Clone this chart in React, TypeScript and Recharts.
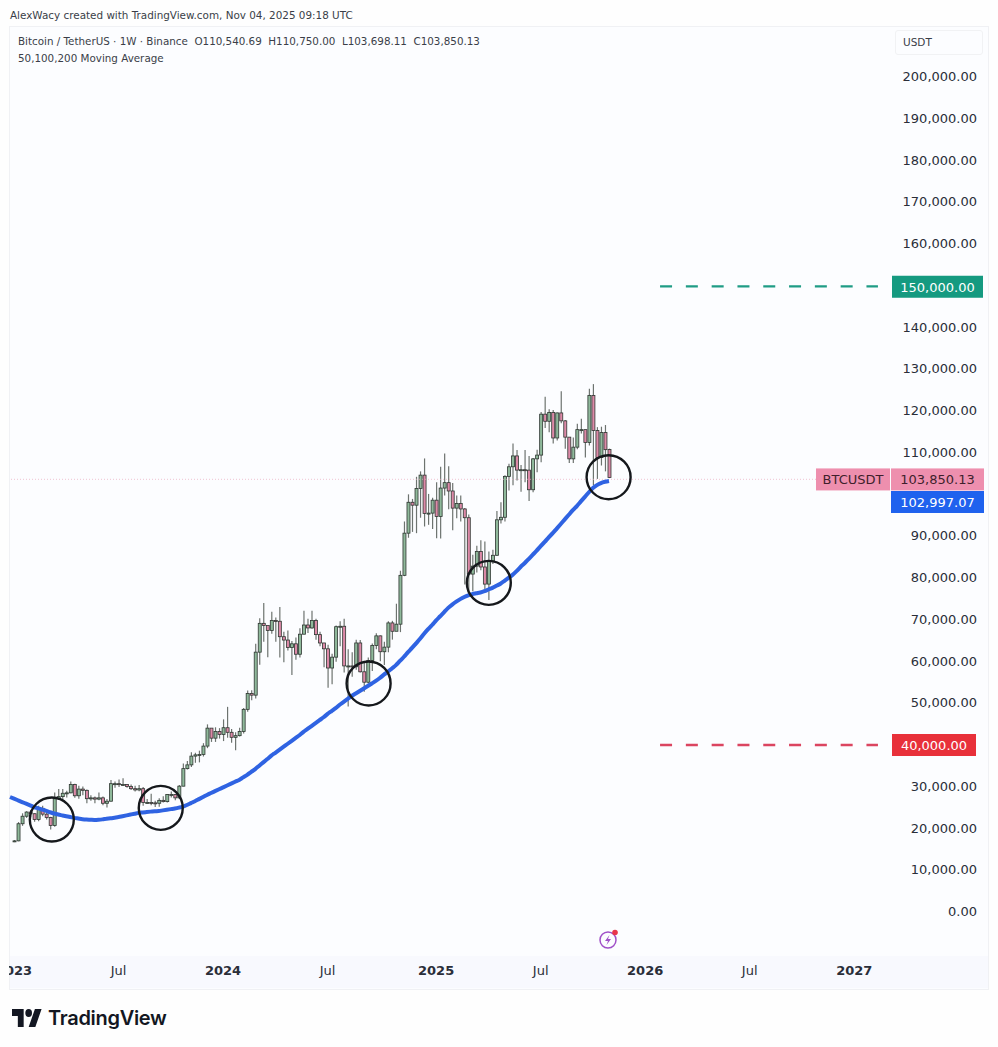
import React from 'react';
import { ComposedChart, Bar, Line, XAxis, YAxis, ReferenceLine, ReferenceDot } from 'recharts';

// weekly candles in thousands of USDT, first one is the week of Jan 2 2023
const opens = [
  16.6, 16.8, 20.9, 22.7, 23.7, 23.3, 21.9, 24.6, 23.2, 22.4,
  20.5, 26.9, 27.4, 28.2, 28.3, 30.3, 27.6, 29.2, 28.9, 26.9,
  27.1, 26.8, 27.1, 25.8, 26.3, 30.5, 30.5, 30.3, 30.3, 29.8,
  29.3, 29.0, 29.3, 26.0, 26.0, 25.9, 25.8, 26.5, 26.2, 27.9,
  27.9, 27.1, 29.9, 34.1, 35.0, 37.1, 37.4, 37.5, 39.5, 43.8,
  41.4, 43.0, 42.3, 43.9, 42.8, 41.6, 42.0, 43.0, 48.3, 52.1,
  51.7, 62.0, 68.9, 68.4, 67.2, 69.6, 69.4, 65.7, 64.9, 63.1,
  64.0, 61.5, 66.3, 68.5, 67.8, 69.6, 66.2, 64.2, 62.8, 58.2,
  60.8, 68.1, 68.2, 58.7, 58.7, 58.5, 64.2, 57.3, 54.8, 60.0,
  63.6, 65.9, 62.1, 63.2, 69.0, 67.0, 68.7, 80.4, 90.5, 97.9,
  97.2, 101.2, 104.4, 95.2, 95.3, 98.4, 94.5, 101.3, 102.6, 100.6,
  96.5, 97.6, 96.3, 94.2, 80.7, 82.6, 86.1, 82.4, 78.3, 83.8,
  85.2, 93.7, 94.3, 104.1, 106.4, 109.0, 105.6, 105.7, 105.6, 100.9,
  108.3, 109.2, 119.0, 117.3, 119.4, 113.3, 119.3, 117.4, 113.5, 108.3,
  111.1, 115.3, 115.3, 112.2, 123.5, 115.1, 108.6, 114.6, 110.54,
];
const closes = [
  16.8, 20.9, 22.7, 23.7, 23.3, 21.9, 24.6, 23.2, 22.4, 20.5,
  26.9, 27.4, 28.2, 28.3, 30.3, 27.6, 29.2, 28.9, 26.9, 27.1,
  26.8, 27.1, 25.8, 26.3, 30.5, 30.5, 30.3, 30.3, 29.8, 29.3,
  29.0, 29.3, 26.0, 26.0, 25.9, 25.8, 26.5, 26.2, 27.9, 27.9,
  27.1, 29.9, 34.1, 35.0, 37.1, 37.4, 37.5, 39.5, 43.8, 41.4,
  43.0, 42.3, 43.9, 42.8, 41.6, 42.0, 43.0, 48.3, 52.1, 51.7,
  62.0, 68.9, 68.4, 67.2, 69.6, 69.4, 65.7, 64.9, 63.1, 64.0,
  61.5, 66.3, 68.5, 67.8, 69.6, 66.2, 64.2, 62.8, 58.2, 60.8,
  68.1, 68.2, 58.7, 58.7, 58.5, 64.2, 57.3, 54.8, 60.0, 63.6,
  65.9, 62.1, 63.2, 69.0, 67.0, 68.7, 80.4, 90.5, 97.9, 97.2,
  101.2, 104.4, 95.2, 95.3, 98.4, 94.5, 101.3, 102.6, 100.6, 96.5,
  97.6, 96.3, 94.2, 80.7, 82.6, 86.1, 82.4, 78.3, 83.8, 85.2,
  93.7, 94.3, 104.1, 106.4, 109.0, 105.6, 105.7, 105.6, 100.9, 108.3,
  109.2, 119.0, 117.3, 119.4, 113.3, 119.3, 117.4, 113.5, 108.3, 111.1,
  115.3, 115.3, 112.2, 123.5, 115.1, 108.6, 114.6, 110.5, 103.85,
];
const highs = [
  17.0, 21.3, 23.4, 23.9, 24.2, 23.4, 25.2, 25.2, 23.9, 22.6,
  28.4, 29.2, 29.2, 28.8, 31.0, 30.5, 30.0, 29.8, 29.1, 27.7,
  27.4, 28.4, 27.4, 26.8, 31.4, 31.0, 31.5, 31.8, 30.4, 30.3,
  30.0, 30.2, 29.7, 26.8, 28.1, 26.4, 27.0, 27.5, 28.0, 28.6,
  28.0, 30.2, 35.3, 35.9, 38.0, 37.9, 38.4, 40.2, 44.7, 43.4,
  44.0, 43.8, 45.9, 48.9, 43.6, 42.8, 43.9, 48.6, 52.8, 52.9,
  64.0, 70.1, 73.8, 68.1, 71.7, 70.3, 72.8, 66.9, 67.2, 64.7,
  65.5, 67.7, 71.9, 70.0, 71.9, 70.0, 66.9, 63.4, 63.8, 61.6,
  68.4, 69.4, 70.0, 62.7, 62.0, 65.0, 64.9, 59.8, 60.7, 64.1,
  66.5, 66.0, 64.5, 69.4, 69.5, 73.6, 81.5, 93.3, 99.8, 98.7,
  104.0, 105.3, 108.4, 99.9, 99.0, 102.7, 106.4, 109.6, 106.5, 102.5,
  99.5, 99.5, 96.5, 95.0, 85.3, 87.5, 88.8, 88.5, 86.1, 86.5,
  95.8, 97.9, 104.4, 107.1, 112.0, 110.4, 106.8, 110.4, 109.0, 108.5,
  110.5, 119.5, 123.2, 120.2, 120.0, 119.4, 124.5, 117.6, 113.5, 113.4,
  116.7, 117.9, 113.5, 125.1, 126.2, 115.9, 116.0, 116.4, 110.75,
];
const lows = [
  16.5, 16.7, 20.4, 22.3, 22.5, 21.4, 21.5, 22.7, 21.9, 19.5,
  20.2, 26.6, 26.5, 27.2, 28.2, 27.1, 26.9, 27.7, 25.8, 26.4,
  25.8, 26.5, 25.3, 24.8, 26.2, 29.5, 29.7, 30.0, 29.5, 29.0,
  28.6, 28.7, 25.2, 25.7, 25.3, 24.9, 25.0, 26.0, 26.0, 27.2,
  26.5, 26.9, 29.9, 33.9, 34.5, 35.5, 35.6, 37.0, 39.0, 40.5,
  40.5, 41.3, 40.7, 41.5, 40.3, 38.5, 41.8, 42.5, 47.7, 50.5,
  50.9, 59.0, 64.5, 60.8, 66.4, 64.5, 60.7, 59.6, 62.4, 56.5,
  60.2, 60.7, 66.3, 66.6, 67.6, 65.0, 63.4, 58.4, 53.5, 54.3,
  59.7, 63.4, 57.1, 49.0, 56.1, 57.8, 57.1, 52.5, 54.5, 57.5,
  62.7, 59.8, 58.9, 62.0, 65.0, 67.5, 66.8, 80.2, 89.4, 90.8,
  90.5, 94.2, 92.1, 92.5, 91.5, 89.3, 89.2, 99.5, 96.2, 91.2,
  94.1, 93.3, 78.2, 76.6, 76.6, 81.1, 81.6, 77.1, 74.5, 83.1,
  85.1, 92.8, 93.3, 100.7, 102.0, 103.1, 100.4, 102.7, 98.2, 100.3,
  105.1, 107.5, 115.7, 114.7, 112.0, 112.7, 116.8, 110.7, 107.3, 107.3,
  110.6, 114.4, 108.6, 111.5, 102.0, 103.5, 106.7, 105.3, 103.7,
];

// the blue average starts one week before the first candle
const average = [
  27.3, 26.9, 26.5, 26.1, 25.7, 25.3, 24.9, 24.6, 24.3, 24.0, 23.65,
  23.35, 23.1, 22.9, 22.7, 22.5, 22.3, 22.15, 22.0, 21.9, 21.85,
  21.8, 21.85, 21.95, 22.1, 22.2, 22.35, 22.5, 22.7, 22.9, 23.1,
  23.3, 23.5, 23.6, 23.7, 23.8, 23.9, 23.95, 24.1, 24.25, 24.4,
  24.55, 24.75, 25.0, 25.4, 25.85, 26.3, 26.8, 27.3, 27.8, 28.25,
  28.7, 29.15, 29.6, 30.05, 30.5, 30.95, 31.4, 32.0, 32.6, 33.3,
  34.0, 34.8, 35.6, 36.4, 37.2, 37.9, 38.6, 39.3, 40.0, 40.7,
  41.4, 42.1, 42.9, 43.6, 44.3, 45.0, 45.7, 46.4, 47.2, 47.9,
  48.6, 49.4, 50.1, 50.8, 51.5, 52.1, 52.7, 53.3, 53.9, 54.5,
  55.1, 55.8, 56.6, 57.3, 58.1, 58.9, 59.9, 60.9, 62.0, 63.0,
  64.1, 65.2, 66.4, 67.5, 68.5, 69.6, 70.6, 71.6, 72.6, 73.4,
  74.1, 74.7, 75.2, 75.6, 75.9, 76.1, 76.3, 76.6, 77.0, 77.4,
  77.9, 78.4, 79.1, 79.8, 80.5, 81.4, 82.4, 83.3, 84.3, 85.3,
  86.3, 87.4, 88.4, 89.5, 90.5, 91.6, 92.7, 93.8, 94.9, 96.0,
  97.0, 98.1, 99.2, 100.3, 101.3, 102.0, 102.5, 102.8, 102.997,
];

// 40k, 100k and 150k sit under the coloured price tags, as on the original
const priceTicks = [
  0, 10000, 20000, 30000, 50000, 60000, 70000, 80000, 90000,
  110000, 120000, 130000, 140000, 160000, 170000, 180000, 190000, 200000,
];
const timeTicks = [0, 26, 52, 78, 105, 131, 157, 183, 209];
const timeLabels = ['2023', 'Jul', '2024', 'Jul', '2025', 'Jul', '2026', 'Jul', '2027'];
const touches = [
  { week: 9.4, price: 21900 },
  { week: 36.5, price: 24700 },
  { week: 88.2, price: 54500 },
  { week: 118.1, price: 78600 },
  { week: 147.9, price: 103900 },
];
const lastClose = 103850.13;
const lastAverage = 102997.07;

const rows = average.map((value, i) => {
  const c = i - 1;
  return {
    week: c,
    average: value * 1000,
    open: c >= 0 ? opens[c] * 1000 : null,
    close: c >= 0 ? closes[c] * 1000 : null,
    high: c >= 0 ? highs[c] * 1000 : null,
    low: c >= 0 ? lows[c] * 1000 : null,
  };
});

const FONT = '"DejaVu Sans", Verdana, sans-serif';
const TEXT = '#2a2e39';

const formatPrice = (v: number) =>
  v.toLocaleString('en-US', { minimumFractionDigits: 2, maximumFractionDigits: 2 });

const Candle = (props: any) => {
  const { x, y, width, height, payload } = props;
  if (payload.high == null) return null;
  const perUnit = height / (payload.high - payload.low);
  const top = y + (payload.high - Math.max(payload.open, payload.close)) * perUnit;
  const bottom = y + (payload.high - Math.min(payload.open, payload.close)) * perUnit;
  const up = payload.close >= payload.open;
  const mid = x + width / 2;
  return (
    <g>
      <line x1={mid} x2={mid} y1={y} y2={y + height} stroke="#6d736f" strokeWidth={1.2} />
      <rect
        x={x}
        y={top}
        width={width}
        height={Math.max(bottom - top, 1)}
        fill={up ? '#8fb99b' : '#dd8aa8'}
        stroke="#2e3631"
        strokeWidth={0.8}
      />
    </g>
  );
};

const PriceTick = (props: any) => (
  <text x={977} y={props.y} dy={5} textAnchor="end" fontSize={13} fontFamily={FONT} fill={TEXT}>
    {formatPrice(props.payload.value)}
  </text>
);

const TimeTick = (props: any) => {
  const i = timeTicks.indexOf(props.payload.value);
  const label = timeLabels[i];
  const isYear = label !== 'Jul';
  return (
    <text
      x={props.x}
      y={975}
      textAnchor="middle"
      fontSize={13}
      fontFamily={FONT}
      fontWeight={isYear ? 700 : 400}
      fill={TEXT}
      clipPath="url(#paneClip)"
    >
      {label}
    </text>
  );
};

const PriceTag = (props: any) => {
  const { viewBox, text, start, size, fill, color, shift = 0 } = props;
  const right = viewBox.x + viewBox.width;
  const center = viewBox.y + shift;
  return (
    <g>
      <rect x={right + start} y={center - 11} width={size} height={22} fill={fill} />
      <text
        x={right + start + size / 2}
        y={center + 5}
        textAnchor="middle"
        fontSize={13}
        fontFamily={FONT}
        fill={color}
      >
        {text}
      </text>
    </g>
  );
};

const boltIcon = (
  <svg width="24" height="24" viewBox="0 0 24 24" style={{ position: 'absolute', left: 596, top: 928 }}>
    <circle cx="12" cy="12" r="8" fill="none" stroke="#a050c8" strokeWidth="1.5" />
    <path d="M13.5 7 L9 13 H12 L10.5 17 L15 11 H12 Z" fill="#a050c8" />
    <circle cx="19" cy="4.5" r="2.8" fill="#e8354a" />
  </svg>
);

const logo = (
  <svg width="30" height="18" viewBox="0 4 36 18" style={{ position: 'absolute', left: 12, top: 1009 }} preserveAspectRatio="none">
    <path d="M14 22H7V11H0V4h14v18zM28 22h-8l7.5-18h8L28 22z" fill="#131722" />
    <circle cx="20" cy="8" r="4" fill="#131722" />
  </svg>
);

const App: React.FC = () => {
  return (
    <div style={{ position: 'absolute', left: 0, top: 0, width: 998, height: 1047, background: '#fefefe', overflow: 'hidden' }}>
      <div style={{ position: 'absolute', left: 10, top: 4, fontFamily: FONT, fontSize: 10.4, color: '#3a3e48', lineHeight: '22px', whiteSpace: 'nowrap' }}>
        AlexWacy created with TradingView.com, Nov 04, 2025 09:18 UTC
      </div>
      <div style={{ position: 'absolute', left: 9, top: 26, width: 978, height: 962, background: '#fcfdff', border: '1px solid #f0f1f4' }} />
      <div style={{ position: 'absolute', left: 10, top: 956, width: 978, height: 32, background: '#f8f9fe' }} />

      <div style={{ position: 'absolute', left: 0, top: 0 }}>
        <ComposedChart
          width={998}
          height={1047}
          data={rows}
          margin={{ top: 27, right: 0, bottom: 0, left: 10 }}
          barSize={3}
        >
          <defs>
            <clipPath id="paneClip">
              <rect x={9} y={950} width={880} height={40} />
            </clipPath>
          </defs>
          <XAxis
            dataKey="week"
            type="number"
            domain={[-1, 217.4]}
            ticks={timeTicks}
            interval={0}
            height={92}
            axisLine={false}
            tickLine={false}
            tick={TimeTick}
          />
          <YAxis
            orientation="right"
            type="number"
            domain={[-10539, 211737]}
            ticks={priceTicks}
            interval={0}
            width={110}
            axisLine={false}
            tickLine={false}
            tick={PriceTick}
          />
          <ReferenceLine y={103400} stroke="#e9a9be" strokeDasharray="1 2" strokeOpacity={0.7} />
          <Bar
            dataKey={(d: any) => (d.high == null ? null : [d.low, d.high])}
            shape={Candle}
            isAnimationActive={false}
          />
          <Line
            dataKey="average"
            type="monotone"
            stroke="#2f63e2"
            strokeWidth={4}
            dot={false}
            isAnimationActive={false}
          />
          {touches.map((t) => (
            <ReferenceDot
              key={t.week}
              x={t.week}
              y={t.price}
              r={22}
              fill="none"
              stroke="#15181c"
              strokeWidth={2.4}
            />
          ))}
          <ReferenceLine
            segment={[{ x: 160.7, y: 149600 }, { x: 214.9, y: 149600 }]}
            stroke="#1f9c85"
            strokeWidth={2.4}
            strokeDasharray="12 13.8"
          />
          <ReferenceLine
            segment={[{ x: 160.7, y: 39750 }, { x: 214.9, y: 39750 }]}
            stroke="#db4560"
            strokeWidth={2.4}
            strokeDasharray="12 13.8"
          />
          <ReferenceLine y={150000} stroke="none" label={<PriceTag text="150,000.00" start={4} size={91} fill="#159a80" color="#ffffff" shift={2} />} />
          <ReferenceLine y={40000} stroke="none" label={<PriceTag text="40,000.00" start={4} size={84} fill="#e8303a" color="#ffffff" shift={1} />} />
          <ReferenceLine y={lastClose} stroke="none" label={<PriceTag text="BTCUSDT" start={-72} size={74} fill="#ee8fae" color="#3f1f2c" shift={2} />} />
          <ReferenceLine y={lastClose} stroke="none" label={<PriceTag text="103,850.13" start={3} size={93} fill="#ee8fae" color="#3f1f2c" shift={2} />} />
          <ReferenceLine y={lastAverage} stroke="none" label={<PriceTag text="102,997.07" start={3} size={93} fill="#1f62ee" color="#ffffff" shift={21} />} />
        </ComposedChart>
      </div>

      <div style={{ position: 'absolute', left: 18, top: 33, fontFamily: FONT, fontSize: 10.35, color: '#3a3e48', lineHeight: '17px', whiteSpace: 'pre' }}>
        {'Bitcoin / TetherUS · 1W · Binance  O110,540.69  H110,750.00  L103,698.11  C103,850.13\n50,100,200 Moving Average'}
      </div>
      <div style={{ position: 'absolute', left: 895, top: 30, width: 88, height: 25, border: '1px solid #f1f2f4', borderRadius: 3, boxSizing: 'border-box', fontFamily: FONT, fontSize: 10.5, color: '#3a3e48', paddingLeft: 7, lineHeight: '23px' }}>
        USDT
      </div>
      {boltIcon}
      {logo}
      <div style={{ position: 'absolute', left: 48, top: 1003, fontFamily: 'Inter, sans-serif', fontWeight: 600, fontSize: 20, lineHeight: '30px', color: '#131722', letterSpacing: -0.3 }}>
        TradingView
      </div>
    </div>
  );
};

export default App;
